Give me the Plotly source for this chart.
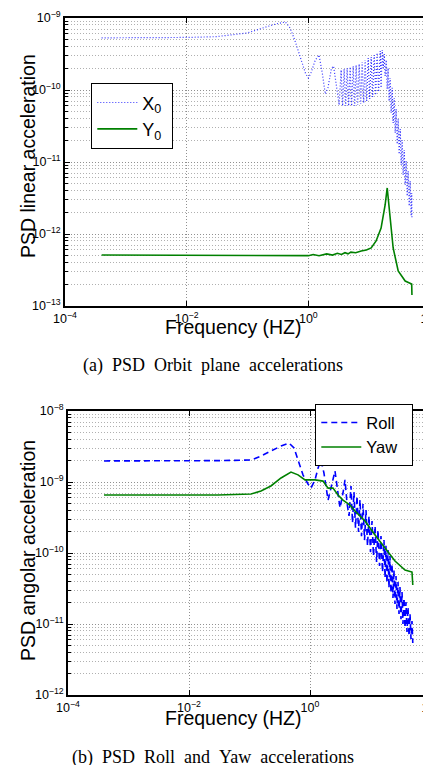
import plotly.graph_objects as go

# ---------------- (a) PSD Orbit plane accelerations ----------------
x0_freq = [4e-4, 1e-3, 3e-3, 1e-2, 3e-2, 0.1, 0.2, 0.3, 0.42, 0.5, 0.6, 0.7, 0.8, 0.9, 1.0, 1.1, 1.3, 1.5,
           1.7, 1.9, 2.1, 2.4, 2.6, 2.9, 3.21,
           3.46, 3.66, 3.88, 4.11, 4.35, 4.60, 4.87, 5.15, 5.46, 5.78, 6.11, 6.47, 6.85, 7.25, 7.67, 8.13,
           8.59, 9.10, 9.64, 10.2, 10.8, 11.4, 12.1, 12.8, 13.5, 14.3, 15.2, 15.7,
           16.4, 17.0, 17.7, 18.3, 19.1, 19.8, 20.5, 21.3, 22.1, 23.0, 23.9, 24.8, 25.8, 26.8, 27.8, 28.9,
           30.0, 31.1, 32.4, 33.6, 34.9, 36.2, 37.7, 39.1, 40.6, 42.2, 43.8, 45.5, 47.2, 49.1, 50.0, 50.5]
x0_psd = [5.3e-10, 5.3e-10, 5.35e-10, 5.37e-10, 5.5e-10, 6.2e-10, 7.5e-10, 8.3e-10, 8.8e-10, 7.3e-10, 4.9e-10,
          3.3e-10, 2.2e-10, 1.7e-10, 1.47e-10, 1.7e-10, 2.6e-10, 3.06e-10, 1.7e-10, 8.8e-11, 1.07e-10, 2.0e-10,
          2.15e-10, 1.07e-10, 6.2e-11,
          1.90e-10, 6.0e-11, 1.96e-10, 6.0e-11, 2.02e-10, 6.0e-11, 2.09e-10, 6.0e-11, 2.15e-10, 6.0e-11,
          2.22e-10, 6.2e-11, 2.30e-10, 6.4e-11, 2.45e-10, 6.6e-11, 2.61e-10, 7.0e-11, 2.78e-10, 7.5e-11,
          2.87e-10, 8.0e-11, 3.06e-10, 8.5e-11, 3.27e-10, 9.4e-11, 3.48e-10, 1.07e-10,
          3.6e-10, 2.02e-10, 3.16e-10, 1.56e-10, 2.61e-10, 1.03e-10, 2.02e-10, 7.0e-11, 1.47e-10, 4.8e-11,
          1.07e-10, 3.48e-11, 7.7e-11, 2.53e-11, 5.45e-11, 1.78e-11, 3.96e-11, 1.29e-11, 2.87e-11, 9.1e-12,
          2.02e-11, 6.6e-12, 1.47e-11, 4.8e-12, 1.03e-11, 3.37e-12, 7.5e-12, 2.45e-12, 5.45e-12, 1.78e-12,
          3.71e-12, 1.67e-12]

y0_freq = [4e-4, 1e-3, 1e-2, 0.1, 0.5, 1.0, 1.2, 1.5, 2.0, 2.5, 3.0, 3.5, 4.0, 4.5, 5.0, 6.0, 7.4, 9.0, 10.8,
           13.0, 15.7, 18.3, 19.8, 22.1, 24.8, 30.0, 39.1, 50.0, 50.5]
y0_psd = [5.1e-13, 5.1e-13, 5.1e-13, 5.1e-13, 5.1e-13, 5.0e-13, 5.2e-13, 5.0e-13, 5.3e-13, 5.1e-13, 5.4e-13,
          5.2e-13, 5.5e-13, 5.3e-13, 5.6e-13, 5.5e-13, 5.8e-13, 6.0e-13, 6.4e-13, 8.0e-13, 1.21e-12, 2.53e-12,
          4.36e-12, 1.84e-12, 6.4e-13, 3.06e-13, 2.22e-13, 2.02e-13, 1.42e-13]

# ---------------- (b) PSD Roll and Yaw accelerations ----------------
roll_freq = [3.94e-4, 1e-3, 1e-2, 0.030, 0.106, 0.155, 0.226, 0.332, 0.450, 0.545, 0.634, 0.766, 0.927, 1.04,
             1.21, 1.36, 1.52, 1.70, 1.99, 2.22, 2.59, 2.90, 3.13, 3.51, 3.79, 4.09, 4.42,
             4.76, 5.04, 5.33, 5.65, 5.98, 6.34, 6.70, 7.10, 7.52, 7.96, 8.43, 8.92, 9.44, 10.0, 10.6, 11.2,
             11.9, 12.6, 13.3, 14.1, 14.9, 15.8, 16.7, 17.4, 18.0, 18.7, 19.5, 20.2, 21.0, 21.8, 22.7, 23.5,
             24.4, 25.4, 26.4, 27.4, 28.5, 29.6, 30.7, 31.9, 33.2, 34.4, 35.8, 37.2, 38.6, 40.1, 41.7, 43.3,
             45.0, 46.7, 48.5, 50.0]
roll_psd = [1.98e-9, 1.98e-9, 1.98e-9, 2.0e-9, 2.04e-9, 2.32e-9, 2.73e-9, 3.21e-9, 3.54e-9, 3.01e-9, 2.04e-9,
            1.26e-9, 9.38e-10, 8.22e-10, 1.07e-9, 1.57e-9, 2.04e-9, 1.34e-9, 5.57e-10, 8.22e-10, 1.43e-9,
            7.0e-10, 4.31e-10, 7.0e-10, 1.07e-9, 5.06e-10, 3.32e-10,
            8.79e-10, 2.65e-10, 7.23e-10, 2.25e-10, 6.35e-10, 1.98e-10, 5.6e-10, 1.73e-10, 4.9e-10, 1.52e-10,
            4.04e-10, 1.26e-10, 3.32e-10, 1.03e-10, 2.82e-10, 9.08e-11, 2.40e-10, 7.46e-11, 2.11e-10, 6.56e-11,
            1.73e-10, 5.40e-11, 1.52e-10, 4.44e-11, 1.26e-10, 3.78e-11, 1.10e-10, 3.21e-11, 9.08e-11, 2.73e-11,
            7.0e-11, 2.32e-11, 5.76e-11, 1.91e-11, 4.74e-11, 1.63e-11, 3.91e-11, 1.38e-11, 3.32e-11, 1.17e-11,
            2.82e-11, 1.0e-11, 2.32e-11, 8.79e-12, 2.04e-11, 7.71e-12, 1.73e-11, 6.78e-12, 1.38e-11, 6.15e-12,
            1.1e-11, 5.4e-12]

yaw_freq = [3.94e-4, 1e-3, 1e-2, 0.030, 0.106, 0.155, 0.226, 0.332, 0.485, 0.634, 0.826, 1.21, 1.64, 1.99,
            2.40, 2.90, 3.51, 4.58, 5.54, 8.11, 11.9, 17.4, 25.4, 37.2, 48.5, 50.0]
yaw_psd = [6.56e-10, 6.56e-10, 6.56e-10, 6.56e-10, 6.78e-10, 7.46e-10, 8.79e-10, 1.14e-9, 1.38e-9, 1.26e-9,
           1.07e-9, 1.07e-9, 1.03e-9, 8.2e-10, 8.2e-10, 6.56e-10, 5.57e-10, 4.74e-10, 3.91e-10, 2.82e-10,
           1.79e-10, 1.17e-10, 7.7e-11, 5.76e-11, 5.4e-11, 3.54e-11]

# tick labels
x_tickvals = [1e-4, 1e-2, 1e0, 1e2]
x_ticktext = ["10<sup>−4</sup>", "10<sup>−2</sup>", "10<sup>0</sup>", "10<sup>2</sup>"]
ya_tickvals = [1e-13, 1e-12, 1e-11, 1e-10, 1e-9]
ya_ticktext = ["10<sup>−13</sup>", "10<sup>−12</sup>", "10<sup>−11</sup>", "10<sup>−10</sup>", "10<sup>−9</sup>"]
yb_tickvals = [1e-12, 1e-11, 1e-10, 1e-9, 1e-8]
yb_ticktext = ["10<sup>−12</sup>", "10<sup>−11</sup>", "10<sup>−10</sup>", "10<sup>−9</sup>", "10<sup>−8</sup>"]

pad = "\u00a0"
fig = go.Figure()
fig.add_trace(go.Scatter(x=x0_freq, y=x0_psd, mode="lines", name="X<sub>0</sub>" + pad,
                         line=dict(color="rgba(30,30,255,0.9)", width=1.2, dash="1px,2px"),
                         xaxis="x", yaxis="y", legend="legend"))
fig.add_trace(go.Scatter(x=y0_freq, y=y0_psd, mode="lines", name="Y<sub>0</sub>" + pad,
                         line=dict(color="#008000", width=1.6),
                         xaxis="x", yaxis="y", legend="legend"))
fig.add_trace(go.Scatter(x=roll_freq, y=roll_psd, mode="lines", name="Roll" + pad * 2,
                         line=dict(color="#0000ff", width=1.6, dash="6px,4px"),
                         xaxis="x2", yaxis="y2", legend="legend2"))
fig.add_trace(go.Scatter(x=yaw_freq, y=yaw_psd, mode="lines", name="Yaw" + pad * 2,
                         line=dict(color="#008000", width=1.6),
                         xaxis="x2", yaxis="y2", legend="legend2"))

W, H = 431, 765
def px(x):
    return x / W
def py(y):
    return 1 - y / H

sans = "Liberation Sans, Arial, sans-serif"
serif = "Liberation Serif, Times New Roman, serif"
tickfont = dict(family=sans, size=12.5, color="black")
minor_y = dict(ticks="inside", ticklen=3, tickcolor="black", showgrid=True,
               gridcolor="#b0b0b0", griddash="1px,2px", gridwidth=1,
               tickvals=[k * 10.0 ** e for e in range(-14, -7) for k in range(2, 10)])

def xaxis_cfg(dom, anchor):
    return dict(type="log", range=[-4, 2], domain=dom, anchor=anchor,
                tickmode="array", tickvals=x_tickvals, ticktext=x_ticktext,
                showline=True, linecolor="black", linewidth=1.6, mirror="ticks",
                ticks="inside", ticklen=5, tickcolor="black",
                showgrid=True, gridcolor="#909090", griddash="1px,2px", gridwidth=1,
                zeroline=False, tickfont=tickfont, automargin=False, ticklabeloverflow="allow")

def yaxis_cfg(dom, anchor, rng, tv, tt):
    return dict(type="log", range=rng, domain=dom, anchor=anchor,
                tickmode="array", tickvals=tv, ticktext=tt,
                showline=True, linecolor="black", linewidth=1.6, mirror="ticks",
                ticks="inside", ticklen=5, tickcolor="black",
                showgrid=True, gridcolor="#909090", griddash="1px,2px", gridwidth=1,
                zeroline=False, tickfont=tickfont, minor=minor_y, automargin=False,
                ticklabeloverflow="allow")

fig.update_layout(
    width=W, height=H, margin=dict(l=0, r=0, t=0, b=0, autoexpand=False),
    paper_bgcolor="white", plot_bgcolor="white",
    font=dict(family=sans, color="black"),
    xaxis=xaxis_cfg([px(57), px(422)], "y"),
    yaxis=yaxis_cfg([py(298), py(10)], "x", [-13, -9], ya_tickvals, ya_ticktext),
    xaxis2=xaxis_cfg([px(60), px(423)], "y2"),
    yaxis2=yaxis_cfg([py(687), py(403)], "x2", [-12, -8], yb_tickvals, yb_ticktext),
    legend=dict(x=px(83), y=py(75), xanchor="left", yanchor="top",
                bgcolor="white", bordercolor="black", borderwidth=1.3,
                font=dict(size=18, family=sans),
                itemwidth=40, tracegroupgap=0),
    legend2=dict(x=px(307), y=py(396), xanchor="left", yanchor="top",
                 bgcolor="white", bordercolor="black", borderwidth=1.3,
                 font=dict(size=16.5, family=sans),
                 itemwidth=40, tracegroupgap=0),
    showlegend=True,
)

gap = " \u00a0"
annots = [
    dict(text="PSD linear acceleration", x=px(20), y=py(148), textangle=-90, font=dict(size=19.5, family=sans)),
    dict(text="Frequency (HZ)", x=px(225), y=py(319), font=dict(size=19.5, family=sans)),
    dict(text=gap.join(["(a)", "PSD", "Orbit", "plane", "accelerations"]), x=px(205), y=py(357),
         font=dict(size=18, family=serif)),
    dict(text="PSD angolar acceleration", x=px(20), y=py(543), textangle=-90, font=dict(size=19.5, family=sans)),
    dict(text="Frequency (HZ)", x=px(225), y=py(710), font=dict(size=19.5, family=sans)),
    dict(text=gap.join(["(b)", "PSD", "Roll", "and", "Yaw", "accelerations"]), x=px(205), y=py(749),
         font=dict(size=18, family=serif)),
]
for a in annots:
    fig.add_annotation(xref="paper", yref="paper", showarrow=False, xanchor="center", yanchor="middle", **a)

fig.write_html("out.html")
